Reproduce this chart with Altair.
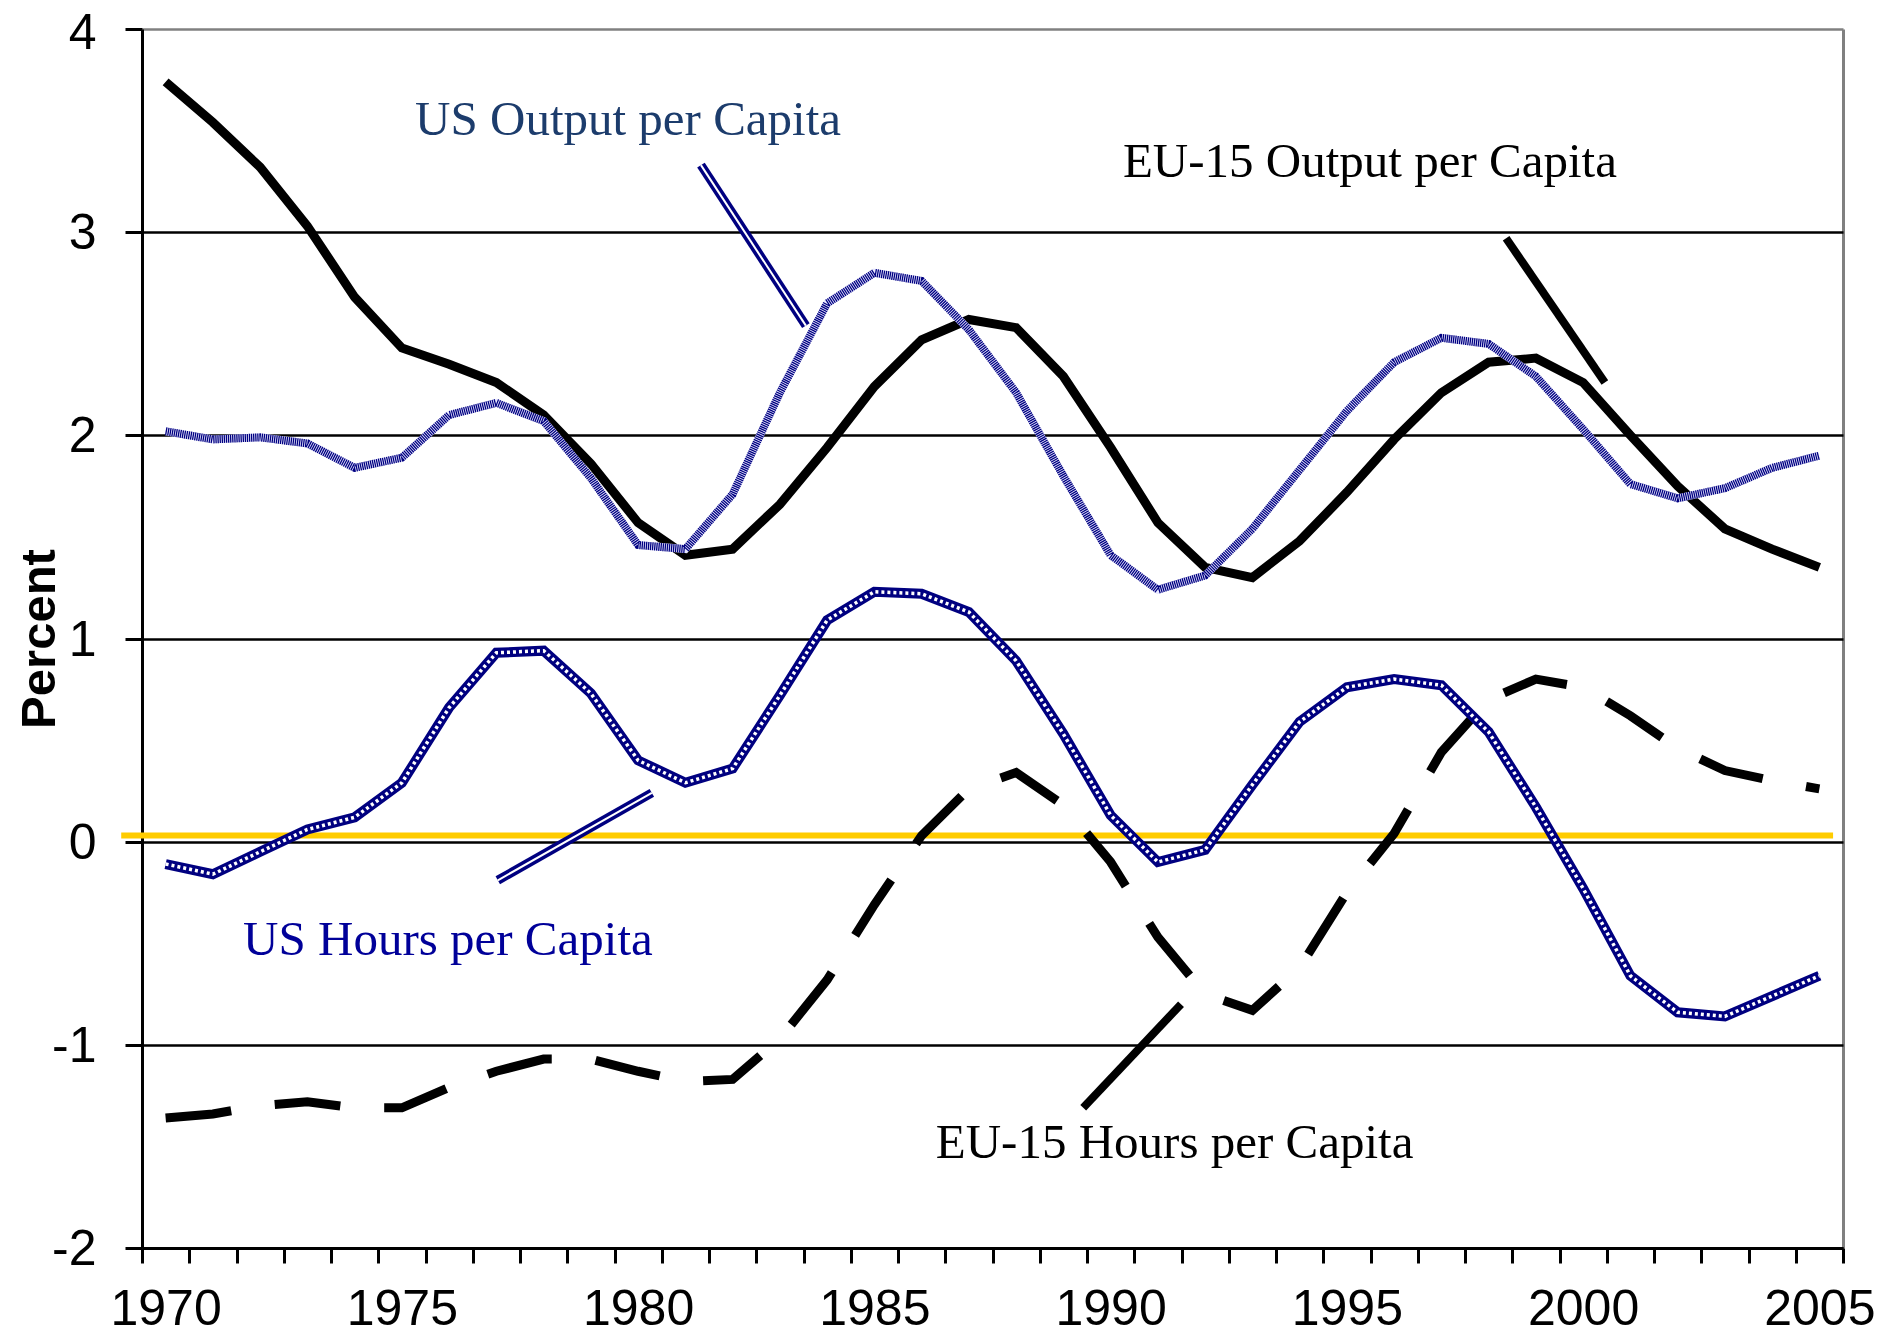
import altair as alt
import pandas as pd

# ---------------- data ----------------
years = list(range(1970, 2006))

us_output = [2.02, 1.98, 1.99, 1.96, 1.84, 1.89, 2.10, 2.16, 2.07, 1.79,
             1.46, 1.44, 1.71, 2.21, 2.65, 2.80, 2.76, 2.52, 2.21, 1.80,
             1.41, 1.24, 1.31, 1.54, 1.83, 2.12, 2.36, 2.48, 2.45, 2.29,
             2.03, 1.76, 1.69, 1.74, 1.84, 1.90]

eu_output = [3.74, 3.54, 3.32, 3.03, 2.68, 2.43, 2.35, 2.26, 2.10, 1.86,
             1.57, 1.41, 1.44, 1.66, 1.94, 2.24, 2.47, 2.57, 2.53, 2.29,
             1.94, 1.57, 1.35, 1.30, 1.48, 1.72, 1.98, 2.21, 2.36, 2.38,
             2.26, 2.00, 1.75, 1.54, 1.44, 1.35]

us_hours = [-0.11, -0.16, -0.05, 0.06, 0.12, 0.29, 0.66, 0.93, 0.94, 0.73,
            0.40, 0.29, 0.36, 0.72, 1.09, 1.23, 1.22, 1.13, 0.89, 0.53,
            0.13, -0.10, -0.04, 0.28, 0.59, 0.76, 0.80, 0.77, 0.54, 0.17,
            -0.23, -0.66, -0.84, -0.86, -0.76, -0.66]

eu_hours = [-1.36, -1.34, -1.30, -1.28, -1.31, -1.31, -1.21, -1.13, -1.07, -1.07,
            -1.13, -1.18, -1.17, -0.97, -0.68, -0.31, 0.03, 0.26, 0.34, 0.18,
            -0.10, -0.47, -0.75, -0.83, -0.62, -0.25, 0.04, 0.44, 0.70, 0.80,
            0.76, 0.62, 0.46, 0.35, 0.30, 0.26]

x_tick_values = [1969.5 + i for i in range(37)]
y_tick_values = [-2, -1, 0, 1, 2, 3, 4]

zero_line_x = [1969.06]
zero_line_x2 = [2005.29]
zero_line_y = [0.03]

label_text = ["US Output per Capita", "EU-15 Output per Capita",
              "US Hours per Capita", "EU-15 Hours per Capita"]
label_x = [1975.28, 1990.26, 1971.64, 1986.30]
label_y = [3.478, 3.272, -0.558, -1.557]
label_color = ["#1c3c6c", "#000000", "#000099", "#000000"]

# pointer lines (double navy for US, single black for EU)
us_ptr_x = [1981.33, 1977.03]
us_ptr_y = [3.33, -0.19]
us_ptr_x2 = [1983.55, 1980.29]
us_ptr_y2 = [2.54, 0.24]

eu_ptr_x = [1998.37, 1989.42]
eu_ptr_y = [2.97, -1.31]
eu_ptr_x2 = [2000.46, 1991.49]
eu_ptr_y2 = [2.26, -0.80]

# ---------------- tables ----------------
df_us_out = pd.DataFrame({"year": years, "value": us_output})
df_eu_out = pd.DataFrame({"year": years, "value": eu_output})
df_us_hrs = pd.DataFrame({"year": years, "value": us_hours})
df_eu_hrs = pd.DataFrame({"year": years, "value": eu_hours})
df_zero = pd.DataFrame({"year": zero_line_x, "year2": zero_line_x2, "value": zero_line_y})
df_labels = pd.DataFrame({"year": label_x, "value": label_y, "label": label_text,
                          "color": label_color})
df_us_ptr = pd.DataFrame({"year": us_ptr_x, "value": us_ptr_y,
                          "year2": us_ptr_x2, "value2": us_ptr_y2})
df_eu_ptr = pd.DataFrame({"year": eu_ptr_x, "value": eu_ptr_y,
                          "year2": eu_ptr_x2, "value2": eu_ptr_y2})

W, H = 1701, 1219
NAVY = "#000080"

x_scale = alt.Scale(domain=[1969.5, 2005.5], nice=False, zero=False)
y_scale = alt.Scale(domain=[-2, 4], nice=False, zero=False)

x_axis = alt.Axis(
    values=x_tick_values,
    title="",
    labelExpr="(datum.value - 1969.5) % 5 === 0 ? toString(datum.value + 0.5) : ''",
    labelOffset=23.6,
    labelFlush=False,
    labelOverlap=False,
    labelFont="Liberation Sans",
    labelFontSize=50,
    labelColor="black",
    labelPadding=21,
    tickSize=15,
    tickWidth=3,
    tickColor="black",
    domainColor="black",
    domainWidth=3,
    grid=True,
    gridColor="#808080",
    gridWidth=3,
    gridOpacity={"condition": {"test": "datum.value === 2005.5", "value": 1}, "value": 0},
)

y_axis = alt.Axis(
    values=y_tick_values,
    title="Percent",
    titleFont="Liberation Sans",
    titleFontWeight="bold",
    titleFontSize=49,
    titleColor="black",
    titleAngle=270,
    titleAlign="center",
    titleBaseline="middle",
    titleX=-103,
    titleY=H / 2,
    labelExpr="toString(datum.value)",
    labelFont="Liberation Sans",
    labelFontSize=50,
    labelColor="black",
    labelPadding=29,
    labelOffset={"condition": {"test": "datum.value === 4", "value": 4}, "value": 1.5},
    tickSize=17,
    tickWidth=3,
    tickColor="black",
    domainColor="black",
    domainWidth=3,
    grid=True,
    gridWidth=2.5,
    gridColor={"condition": {"test": "datum.value === 4", "value": "#808080"}, "value": "black"},
)

X = alt.X("year:Q", scale=x_scale, axis=x_axis)
Y = alt.Y("value:Q", scale=y_scale, axis=y_axis)

zero = alt.Chart(df_zero).mark_rule(color="#FFCC00", strokeWidth=6).encode(
    x=X, x2="year2:Q", y=Y)

eu_out = alt.Chart(df_eu_out).mark_line(color="black", strokeWidth=9).encode(x=X, y=Y)
eu_hrs = alt.Chart(df_eu_hrs).mark_line(color="black", strokeWidth=9,
                                         strokeDash=[66, 44]).encode(x=X, y=Y)

us_out_base = alt.Chart(df_us_out).mark_line(color="#e8e8ff", strokeWidth=8).encode(x=X, y=Y)
us_out_chk = alt.Chart(df_us_out).mark_line(color=NAVY, strokeWidth=8,
                                             strokeDash=[1.3, 0.8]).encode(x=X, y=Y)

us_hrs_base = alt.Chart(df_us_hrs).mark_line(color=NAVY, strokeWidth=10).encode(x=X, y=Y)
us_hrs_chk = alt.Chart(df_us_hrs).mark_line(color="white", strokeWidth=3.5,
                                             strokeDash=[3, 3]).encode(x=X, y=Y)

us_ptr_outer = alt.Chart(df_us_ptr).mark_rule(color=NAVY, strokeWidth=9).encode(
    x=X, y=Y, x2="year2:Q", y2="value2:Q")
us_ptr_inner = alt.Chart(df_us_ptr).mark_rule(color="white", strokeWidth=2).encode(
    x=X, y=Y, x2="year2:Q", y2="value2:Q")
eu_ptr = alt.Chart(df_eu_ptr).mark_rule(color="black", strokeWidth=8).encode(
    x=X, y=Y, x2="year2:Q", y2="value2:Q")

texts = alt.Chart(df_labels).mark_text(
    align="left", baseline="alphabetic", font="Liberation Serif", fontSize=49
).encode(x=X, y=Y, text="label:N", color=alt.Color("color:N", scale=None))

chart = alt.layer(
    zero, eu_out, eu_hrs, us_out_base, us_out_chk, us_hrs_base, us_hrs_chk,
    us_ptr_outer, us_ptr_inner, eu_ptr, texts
).properties(
    width=W, height=H,
    autosize=alt.AutoSizeParams(type="none"),
    padding={"left": 134, "top": 21, "right": 32, "bottom": 86},
).configure_view(strokeWidth=0)

chart.save("out.html", embed_options={"renderer": "svg", "actions": False})
